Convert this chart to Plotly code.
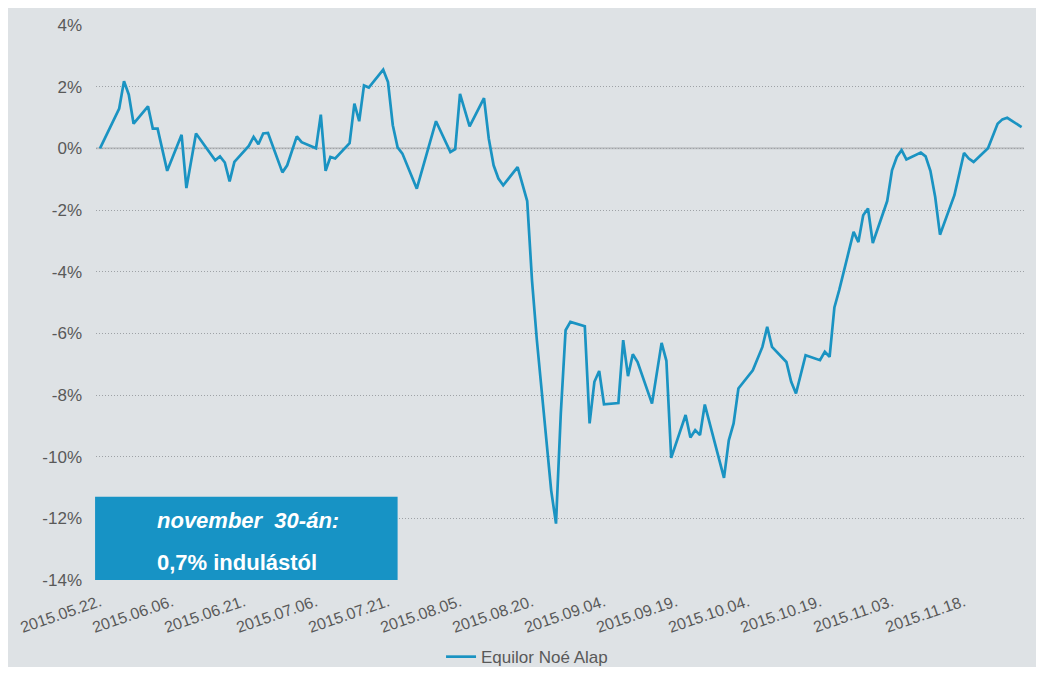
import plotly.graph_objects as go

dates = [
    "2015-05-22", "2015-05-26", "2015-05-27", "2015-05-28", "2015-05-29",
    "2015-06-01", "2015-06-02", "2015-06-03", "2015-06-05", "2015-06-08",
    "2015-06-09", "2015-06-11", "2015-06-15", "2015-06-16", "2015-06-17",
    "2015-06-18", "2015-06-19", "2015-06-22", "2015-06-23", "2015-06-24",
    "2015-06-25", "2015-06-26", "2015-06-29", "2015-06-30", "2015-07-02",
    "2015-07-03", "2015-07-06", "2015-07-07", "2015-07-08", "2015-07-09",
    "2015-07-10", "2015-07-13", "2015-07-14", "2015-07-15", "2015-07-16",
    "2015-07-17", "2015-07-20", "2015-07-21", "2015-07-22", "2015-07-23",
    "2015-07-24", "2015-07-27", "2015-07-31", "2015-08-03", "2015-08-04",
    "2015-08-05", "2015-08-07", "2015-08-10", "2015-08-11", "2015-08-12",
    "2015-08-13", "2015-08-14", "2015-08-17", "2015-08-19", "2015-08-20",
    "2015-08-21", "2015-08-24", "2015-08-25", "2015-08-26", "2015-08-27",
    "2015-08-28", "2015-08-31", "2015-09-01", "2015-09-02", "2015-09-03",
    "2015-09-04", "2015-09-07", "2015-09-08", "2015-09-09", "2015-09-10",
    "2015-09-11", "2015-09-14", "2015-09-16", "2015-09-17", "2015-09-18",
    "2015-09-21", "2015-09-22", "2015-09-23", "2015-09-24", "2015-09-25",
    "2015-09-29", "2015-09-30", "2015-10-01", "2015-10-02", "2015-10-05",
    "2015-10-07", "2015-10-08", "2015-10-09", "2015-10-12", "2015-10-13",
    "2015-10-14", "2015-10-16", "2015-10-19", "2015-10-20", "2015-10-21",
    "2015-10-22", "2015-10-23", "2015-10-26", "2015-10-27", "2015-10-28",
    "2015-10-29", "2015-10-30", "2015-11-02", "2015-11-03", "2015-11-04",
    "2015-11-05", "2015-11-06", "2015-11-09", "2015-11-10", "2015-11-11",
    "2015-11-12", "2015-11-13", "2015-11-16", "2015-11-18", "2015-11-19",
    "2015-11-20", "2015-11-23", "2015-11-25", "2015-11-26", "2015-11-27",
    "2015-11-30",
]

returns_pct = [
    0.00, 1.29, 2.18, 1.74, 0.80,
    1.36, 0.64, 0.64, -0.73, 0.44,
    -1.29, 0.48, -0.39, -0.26, -0.46,
    -1.07, -0.44, 0.08, 0.37, 0.13,
    0.48, 0.50, -0.78, -0.55, 0.39,
    0.20, 0.00, 1.09, -0.73, -0.28,
    -0.33, 0.17, 1.45, 0.88, 2.04,
    1.97, 2.55, 2.15, 0.75, 0.03,
    -0.17, -1.31, 0.88, -0.12, -0.03,
    1.77, 0.71, 1.63, 0.31, -0.55,
    -0.98, -1.20, -0.61, -1.71, -4.28,
    -6.20, -11.10, -12.17, -8.60, -5.90,
    -5.63, -5.77, -8.92, -7.57, -7.22,
    -8.30, -8.26, -6.22, -7.39, -6.68,
    -6.93, -8.28, -6.31, -6.89, -10.04,
    -8.65, -9.38, -9.14, -9.30, -8.31,
    -10.69, -9.47, -8.92, -7.79, -7.20,
    -6.44, -5.79, -6.44, -6.93, -7.57,
    -7.95, -6.71, -6.87, -6.60, -6.76,
    -5.16, -4.60, -2.71, -3.04, -2.17,
    -1.95, -3.07, -1.71, -0.71, -0.28,
    -0.06, -0.36, -0.14, -0.26, -0.73,
    -1.58, -2.80, -1.52, -0.15, -0.33,
    -0.44, 0.00, 0.80, 0.94, 0.99,
    0.69,
]

series_name = "Equilor Noé Alap"
y_ticks = [4, 2, 0, -2, -4, -6, -8, -10, -12, -14]
y_tick_labels = ["4%", "2%", "0%", "-2%", "-4%", "-6%", "-8%", "-10%", "-12%", "-14%"]
box_line1 = "november&nbsp; 30-án:"
box_line2 = "0,7% indulástól"

LINE = "#1a93c2"
BG = "#dee2e5"
TXT = "#595959"

fig = go.Figure()
fig.add_trace(go.Scatter(
    x=dates, y=returns_pct, mode="lines", name=series_name,
    line=dict(color=LINE, width=2.7),
))

# zero line (solid)
fig.add_shape(type="line", xref="paper", yref="y", x0=0, x1=1, y0=0, y1=0,
              line=dict(color="#bcbfc2", width=2), layer="below")

# annotation box
fig.add_shape(type="rect", xref="paper", yref="y",
              x0=-0.001, x1=0.325, y0=-14, y1=-11.3,
              fillcolor="#1793c5", line=dict(width=0), layer="above")
fig.add_annotation(xref="paper", yref="y", x=0.064, y=-12.07, xanchor="left",
                   yanchor="middle", showarrow=False,
                   text="<b><i>" + box_line1 + "</i></b>",
                   font=dict(family="Liberation Sans, Arial", size=22, color="white"))
fig.add_annotation(xref="paper", yref="y", x=0.064, y=-13.43, xanchor="left",
                   yanchor="middle", showarrow=False,
                   text="<b>" + box_line2 + "</b>",
                   font=dict(family="Liberation Sans, Arial", size=22, color="white"))

fig.update_layout(
    width=1036, height=659,
    margin=dict(l=88, r=20, t=17, b=87),
    paper_bgcolor=BG,
    plot_bgcolor="rgba(0,0,0,0)",
    font=dict(family="Liberation Sans, Arial", size=16, color=TXT),
    showlegend=True,
    legend=dict(orientation="h", xref="container", yref="container",
                x=0.501, xanchor="center", y=0.015, yanchor="middle",
                bgcolor="rgba(0,0,0,0)", font=dict(size=17, color=TXT)),
    xaxis=dict(
        type="date", automargin=False,
        range=["2015-05-21 04:00", "2015-11-30 12:00"],
        tick0="2015-05-22", dtick=15 * 86400000,
        tickformat="%Y.%m.%d.", tickangle=-19,
        showgrid=False, zeroline=False, showline=False,
        ticks="", ticklabelstandoff=9, tickfont=dict(size=16, color=TXT),
    ),
    yaxis=dict(
        automargin=False,
        range=[-14, 4], tickvals=y_ticks, ticktext=y_tick_labels,
        showgrid=True, gridcolor="#9ea2a6", griddash="1px,2px", gridwidth=1,
        zeroline=False, showline=False, ticks="", ticklabelstandoff=13,
        tickfont=dict(size=17, color=TXT),
    ),
)

fig.write_html("out.html")
